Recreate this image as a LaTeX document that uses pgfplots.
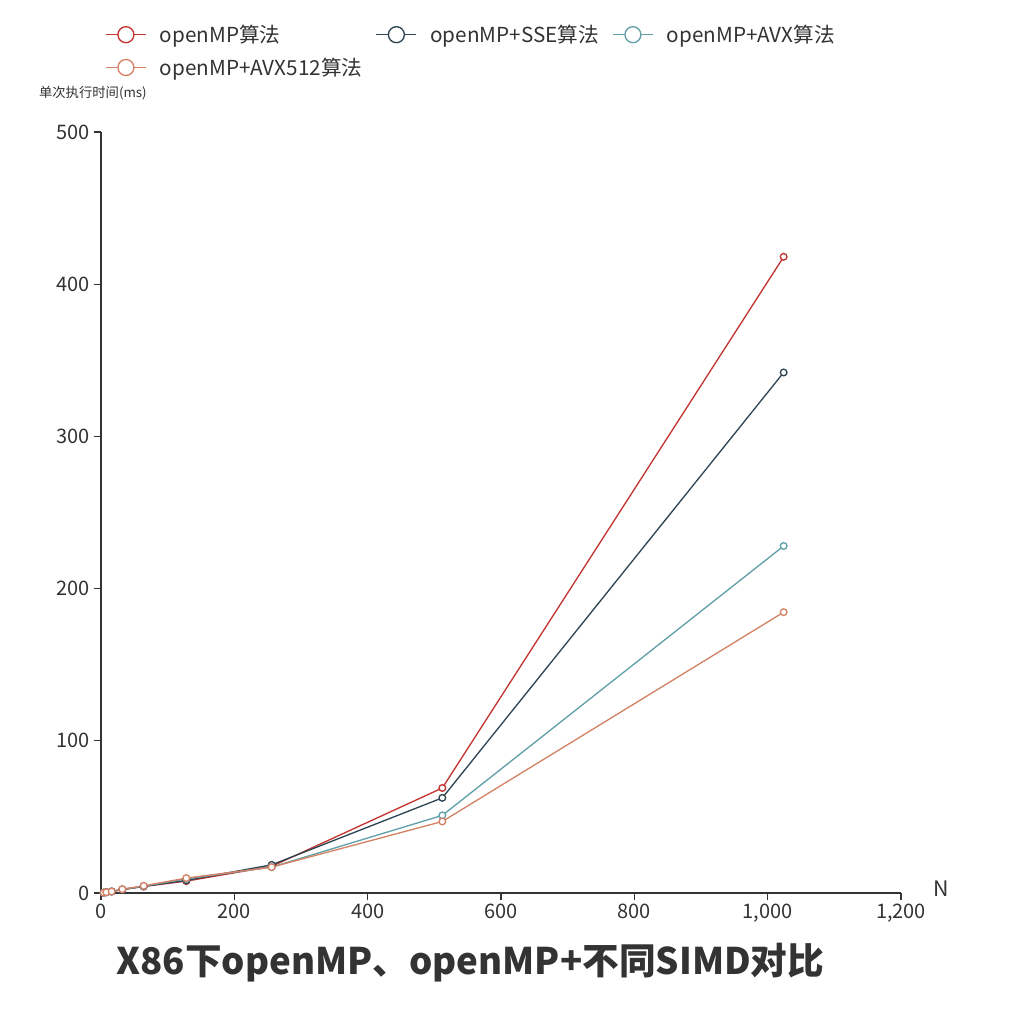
\documentclass[border=0pt]{standalone}
\usepackage{pgfplots}
\pgfplotsset{compat=1.18}
\usepackage{fontspec}
\setmainfont{Noto Sans CJK SC}
\definecolor{c1}{HTML}{C23531}
\definecolor{c2}{HTML}{2F4554}
\definecolor{c3}{HTML}{61A0A8}
\definecolor{c4}{HTML}{D48265}
\definecolor{tx}{HTML}{333333}
\begin{document}
\begin{tikzpicture}[x=1pt,y=1pt]
\begin{axis}[scale only axis, width=600pt, height=570.75pt,
  xmin=0,xmax=1200,ymin=0,ymax=500,
  axis x line=bottom, axis y line=left, axis line style={-, tx, line width=0.9pt},
  xtick={0,200,...,1200}, ytick={0,100,...,500},
  tick align=outside, major tick length=5pt, tick style={tx, line width=0.8pt},
  /pgf/number format/assume math mode=true,
  /pgf/number format/1000 sep={,},
  ticklabel style={font=\fontsize{15}{17}\selectfont, text=tx},
  legend columns=3, legend cell align=left,
  legend style={draw=none, at={(0.0,1.148)}, anchor=north west, font=\fontsize{15.5}{18}\selectfont, text=tx, column sep=8pt, row sep=6pt},
  legend image code/.code={\draw[#1, line width=1pt] (0pt,0pt)--(30pt,0pt); \draw[#1, fill=white, line width=1pt] (15pt,0pt) circle (6pt);},
  every axis plot/.append style={line width=1pt, mark=*, mark size=2.5pt, mark options={fill=white}},
  clip=false]
\addplot[c1] coordinates {(4,0.2)(8,0.5)(16,1)(32,2.3)(64,4.3)(128,7.8)(256,17.5)(512,69)(1024,418)};
\addlegendentry{openMP算法}
\addplot[c2] coordinates {(4,0.2)(8,0.5)(16,1)(32,2.3)(64,4.3)(128,8.3)(256,18.5)(512,62.5)(1024,342)};
\addlegendentry{openMP+SSE算法}
\addplot[c3] coordinates {(4,0.2)(8,0.5)(16,1)(32,2.4)(64,4.5)(128,9.3)(256,17)(512,51)(1024,228)};
\addlegendentry{openMP+AVX算法}
\addplot[c4] coordinates {(4,0.2)(8,0.5)(16,1)(32,2.5)(64,4.7)(128,9.8)(256,17)(512,47)(1024,184.5)};
\addlegendentry{openMP+AVX512算法}
\end{axis}
\node[anchor=west, font=\fontsize{10}{12}\selectfont, text=tx] at (-50pt,600pt) {单次执行时间(ms)};
\node[anchor=west, font=\fontsize{16}{18}\selectfont, text=tx] at (621pt,3pt) {N};
\node[font=\bfseries\fontsize{27.5}{30}\selectfont, text=tx] at (277pt,-52pt) {X86下openMP、openMP+不同SIMD对比};
\useasboundingbox (-75.75pt,-97.5pt) rectangle (684pt,669.75pt);
\end{tikzpicture}
\end{document}
